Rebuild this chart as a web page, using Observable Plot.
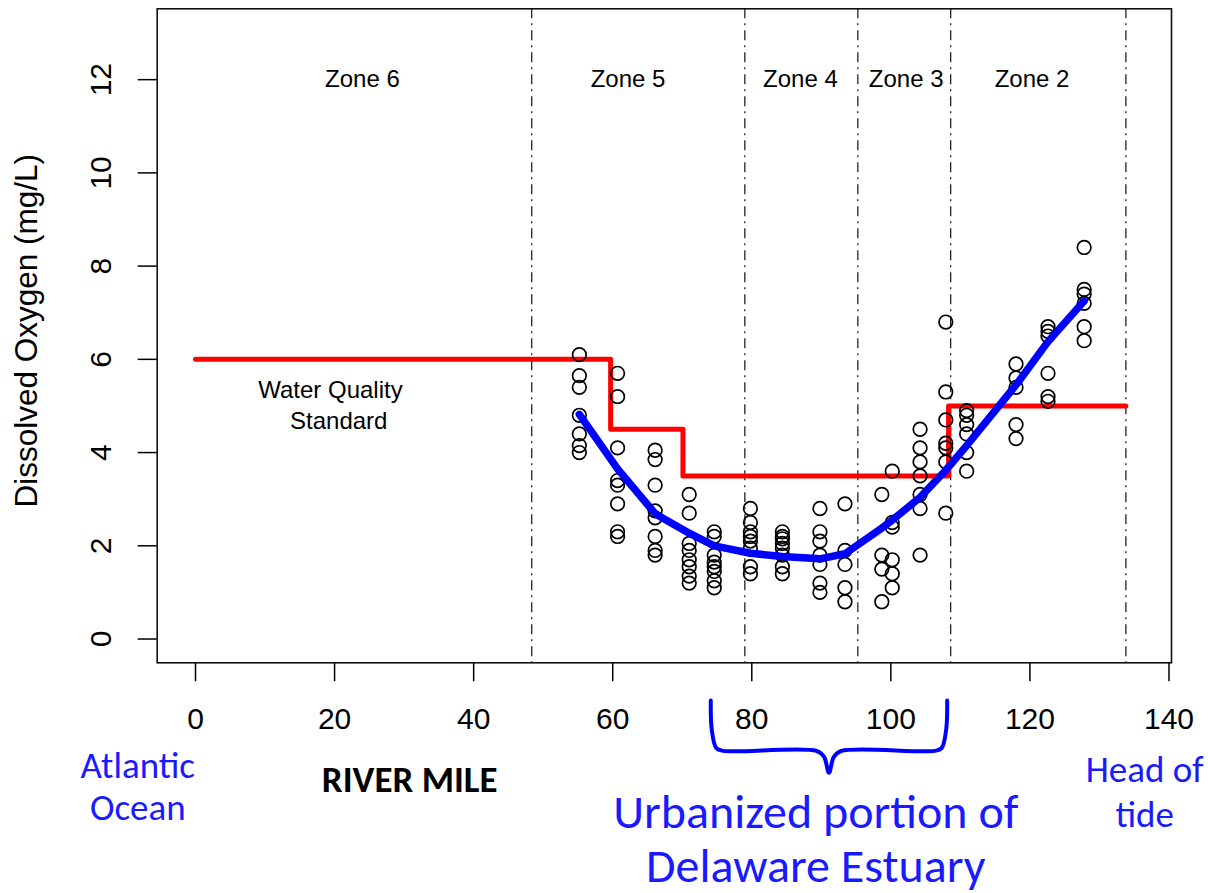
<!DOCTYPE html>
<html><head><meta charset="utf-8">
<script src="https://cdn.jsdelivr.net/npm/d3@7"></script>
<script src="https://cdn.jsdelivr.net/npm/@observablehq/plot@0.6"></script>
<style>body{margin:0;background:#fff;} #chart svg{display:block;}</style>
</head><body><div id="chart"></div>
<script>
// ---- data ----
const riverMiles = [55.2, 60.7, 66.1, 71.0, 74.6, 79.8, 84.4, 89.8, 93.4, 98.7, 100.2, 104.2, 107.9, 110.9, 118.0, 122.6, 127.8];
const doSamples = [
  [6.1, 5.65, 5.4, 4.8, 4.4, 4.15, 4.0],
  [5.7, 5.2, 4.1, 3.4, 3.3, 2.9, 2.3, 2.2],
  [4.05, 3.85, 3.3, 2.75, 2.6, 2.2, 1.9, 1.8],
  [3.1, 2.7, 2.05, 1.9, 1.7, 1.55, 1.35, 1.2],
  [2.3, 2.2, 1.8, 1.65, 1.55, 1.45, 1.25, 1.1],
  [2.8, 2.5, 2.3, 2.2, 2.1, 1.95, 1.55, 1.4],
  [2.3, 2.2, 2.15, 2.05, 1.95, 1.8, 1.55, 1.4],
  [2.8, 2.3, 2.1, 1.8, 1.6, 1.2, 1.0],
  [2.9, 1.9, 1.6, 1.1, 0.8],
  [3.1, 1.8, 1.5, 0.8],
  [3.6, 2.5, 2.4, 1.7, 1.4, 1.1],
  [4.5, 4.1, 3.8, 3.5, 3.1, 2.8, 1.8],
  [6.8, 5.3, 4.7, 4.2, 4.1, 3.8, 2.7],
  [4.9, 4.8, 4.6, 4.4, 4.0, 3.6],
  [5.9, 5.6, 5.4, 4.6, 4.3],
  [6.7, 6.6, 6.5, 5.7, 5.2, 5.1],
  [8.4, 7.5, 7.4, 7.2, 6.7, 6.4]
];
const loessFit = [4.82, 3.65, 2.69, 2.27, 2.0, 1.84, 1.77, 1.72, 1.83, 2.38, 2.55, 3.04, 3.62, 4.15, 5.45, 6.38, 7.25];
const standardMiles = [0, 59.7, 70.1, 108.3, 133.8];
const standardDO = [6, 4.5, 3.5, 5, 5];
const zoneBoundaries = [48.35, 79.0, 95.25, 108.6, 133.8];
const zoneNames = ["Zone 6", "Zone 5", "Zone 4", "Zone 3", "Zone 2"];
const zoneCenters = [24.0, 62.2, 87.0, 102.2, 120.3];
const xTicks = [0, 20, 40, 60, 80, 100, 120, 140];
const yTicks = [0, 2, 4, 6, 8, 10, 12];
const urbanStart = 74.1, urbanEnd = 108.1;

// ---- tables ----
const samples = riverMiles.flatMap((m, i) => doSamples[i].map(v => ({mile: m, DO: v})));
const fit = riverMiles.map((m, i) => ({mile: m, DO: loessFit[i]}));
const standard = standardMiles.map((m, i) => ({mile: m, DO: standardDO[i]}));
const zones = zoneNames.map((z, i) => ({name: z, mile: zoneCenters[i]}));

function brace(x0, x1, yTop, yBot, yTip) {
  const mid = (x0 + x1) / 2;
  return [
    [x0, yTop], [x0 + 0.15, yBot + 0.45], [x0 + 0.8, yBot + 0.06], [x0 + 1.8, yBot],
    [mid - 1.8, yBot], [mid - 0.7, yBot - 0.13], [mid, yTip],
    [mid + 0.7, yBot - 0.13], [mid + 1.8, yBot],
    [x1 - 1.8, yBot], [x1 - 0.8, yBot + 0.06], [x1 - 0.15, yBot + 0.45], [x1, yTop]
  ].map(([x, y]) => ({x, y}));
}

const blueText = "#1a1aff";
const annoFont = "Carlito, Calibri, Lato, sans-serif";

const chart = Plot.plot({
  width: 1208,
  height: 893,
  marginLeft: 156.7,
  marginRight: 37,
  marginTop: 8.3,
  marginBottom: 230.7,
  style: {fontFamily: "'Liberation Sans', Arial, sans-serif", fontSize: "30px", background: "white", color: "black", overflow: "visible"},
  x: {domain: [-5.51, 140.36]},
  y: {domain: [-0.51, 13.52]},
  marks: [
    Plot.ruleX(zoneBoundaries, {stroke: "#222", strokeWidth: 1.3, strokeDasharray: "10,5,2,5"}),
    Plot.line(standard, {x: "mile", y: "DO", curve: "step-after", stroke: "#ff0000", strokeWidth: 5}),
    Plot.dot(samples, {x: "mile", y: "DO", r: 6.8, stroke: "black", strokeWidth: 1.7, fill: "none"}),
    Plot.line(fit, {x: "mile", y: "DO", stroke: "#0000ff", strokeWidth: 7.5, strokeLinejoin: "round", strokeLinecap: "round"}),
    Plot.text(zones, {x: "mile", y: 12, text: "name", fontSize: 24}),
    Plot.text(["Water Quality"], {x: 19.4, y: 5.33, fontSize: 24}),
    Plot.text(["Standard"], {x: 20.6, y: 4.67, fontSize: 24}),
    Plot.frame({stroke: "#111", strokeWidth: 1.6}),
    Plot.axisX({ticks: xTicks, tickSize: 19, tickPadding: 26, label: null, strokeWidth: 1.5, fontSize: 30}),
    Plot.axisY({ticks: yTicks, tickSize: 19, tickPadding: 27, tickRotate: -90, label: null, strokeWidth: 1.5, fontSize: 30}),
    Plot.text(["Dissolved Oxygen (mg/L)"], {frameAnchor: "left", textAnchor: "middle", dx: -130, dy: -5, rotate: -90, fontSize: 31.5}),
    // annotations below the axis
    Plot.text(["Atlantic\nOcean"], {x: -8.3, y: -3.15, fontSize: 37, lineHeight: 1.14, fill: blueText, fontFamily: annoFont}),
    Plot.text(["RIVER MILE"], {x: 30.8, y: -3.02, fontSize: 37, fontWeight: "bold", fill: "black", fontFamily: annoFont}),
    Plot.text(["Head of\ntide"], {x: 136.5, y: -3.24, fontSize: 37, lineHeight: 1.22, fill: blueText, fontFamily: annoFont}),
    Plot.text(["Urbanized portion of\nDelaware Estuary"], {x: (urbanStart + urbanEnd) / 2 - 1.9, y: -4.27, fontSize: 48, lineHeight: 1.12, fill: blueText, fontFamily: annoFont}),
    Plot.line(brace(urbanStart, urbanEnd, -1.32, -2.4, -2.87), {x: "x", y: "y", curve: "catmull-rom", stroke: "#0000ff", strokeWidth: 4, strokeLinejoin: "round"})
  ]
});
document.getElementById("chart").append(chart);
</script>
</body></html>
